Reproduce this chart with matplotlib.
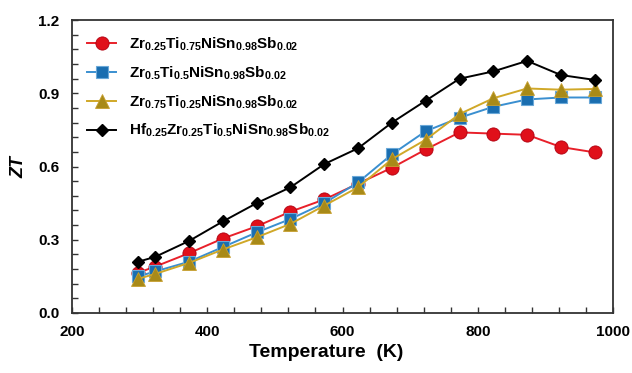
import matplotlib.pyplot as plt
from matplotlib.ticker import MultipleLocator

plt.rcParams['mathtext.default'] = 'regular'
plt.rcParams['font.family'] = ['Liberation Sans', 'DejaVu Sans']

temperature = [298, 323, 373, 423, 473, 523, 573, 623, 673, 723, 773, 823, 873, 923, 973]

zt_zr25 = [0.165, 0.19, 0.245, 0.305, 0.355, 0.415, 0.465, 0.53, 0.595, 0.67, 0.74, 0.735, 0.73, 0.68, 0.658]
zt_zr50 = [0.15, 0.17, 0.21, 0.27, 0.33, 0.385, 0.45, 0.535, 0.65, 0.745, 0.80, 0.845, 0.875, 0.883, 0.883]
zt_zr75 = [0.14, 0.16, 0.205, 0.26, 0.31, 0.365, 0.44, 0.515, 0.63, 0.71, 0.815, 0.88, 0.92, 0.915, 0.918]
zt_hf25 = [0.21, 0.23, 0.295, 0.375, 0.45, 0.515, 0.61, 0.675, 0.78, 0.87, 0.96, 0.99, 1.033, 0.975, 0.955]

labels = [
    'Zr$_{0.25}$Ti$_{0.75}$NiSn$_{0.98}$Sb$_{0.02}$',
    'Zr$_{0.5}$Ti$_{0.5}$NiSn$_{0.98}$Sb$_{0.02}$',
    'Zr$_{0.75}$Ti$_{0.25}$NiSn$_{0.98}$Sb$_{0.02}$',
    'Hf$_{0.25}$Zr$_{0.25}$Ti$_{0.5}$NiSn$_{0.98}$Sb$_{0.02}$',
]

fig = plt.figure(figsize=(6.32, 3.73), dpi=100)
ax = fig.add_axes([0.114, 0.161, 0.856, 0.785])

ax.plot(temperature, zt_zr25, color='#e8202a', lw=1.4, marker='o', ms=9.5,
        mfc='#e0101a', mec='#b00010', mew=0.6, label=labels[0])
ax.plot(temperature, zt_zr50, color='#3a8fd0', lw=1.4, marker='s', ms=8.5,
        mfc='#1a6eb0', mec='#6aa8d8', mew=0.8, label=labels[1])
ax.plot(temperature, zt_zr75, color='#d0a828', lw=1.4, marker='^', ms=9.5,
        mfc='#a88a18', mec='#c8a030', mew=0.6, label=labels[2])
ax.plot(temperature, zt_hf25, color='black', lw=1.4, marker='D', ms=6,
        mfc='black', mec='black', label=labels[3])

ax.set_xlim(200, 1000)
ax.set_ylim(0, 1.2)
ax.xaxis.set_major_locator(MultipleLocator(200))
ax.xaxis.set_minor_locator(MultipleLocator(40))
ax.yaxis.set_major_locator(MultipleLocator(0.3))
ax.yaxis.set_minor_locator(MultipleLocator(0.06))
ax.yaxis.set_major_formatter(plt.FormatStrFormatter('%.1f'))
ax.tick_params(which='both', direction='in', length=4, width=1, color='#333333',
               labelsize=11, pad=9)
for lab in ax.get_xticklabels() + ax.get_yticklabels():
    lab.set_fontweight('bold')
for sp in ax.spines.values():
    sp.set_linewidth(1.3)
    sp.set_color('#333333')

ax.set_xlabel('Temperature  (K)', fontsize=14, fontweight='bold', labelpad=3, x=0.47)
ax.set_ylabel('ZT', fontsize=13, fontweight='bold', fontstyle='italic', labelpad=8)

leg = ax.legend(loc='upper left', frameon=False, prop={'weight': 'bold', 'size': 11},
                handlelength=1.9, labelspacing=0.75, borderaxespad=0.6, handletextpad=0.8)

fig.savefig('out.png', dpi=100)
